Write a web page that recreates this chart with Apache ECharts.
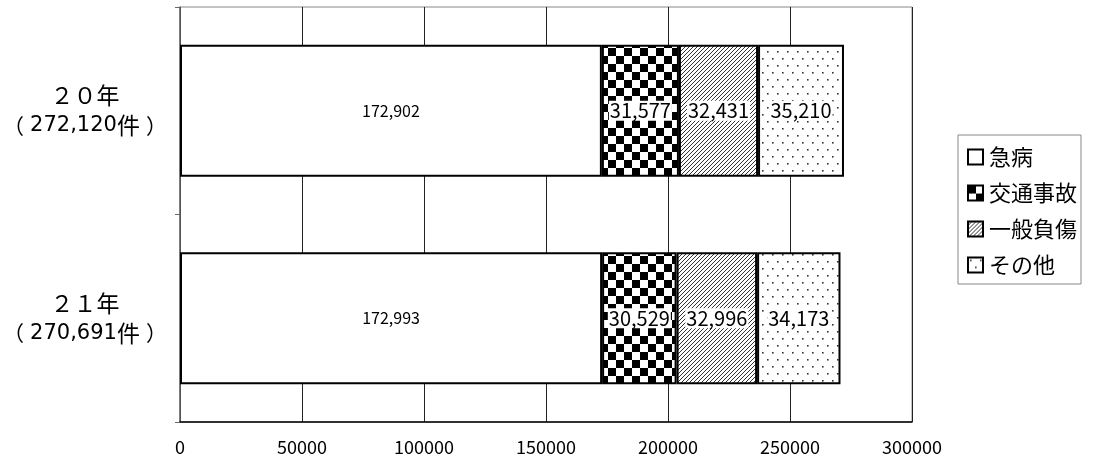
<!DOCTYPE html>
<html><head><meta charset="utf-8">
<script src="https://cdn.jsdelivr.net/npm/echarts@6/dist/echarts.min.js"></script>
<style>html,body{margin:0;padding:0;background:#fff}#c{width:1116px;height:465px}</style>
</head><body><div id="c"></div>
<script>
const categories = ['２０年', '２１年'];
const totals = ['272,120', '270,691'];
const seriesNames = ['急病', '交通事故', '一般負傷', 'その他'];
const kyubyo = [172902, 172993];
const kotsu = [31577, 30529];
const ippan = [32431, 32996];
const sonota = [35210, 34173];
const xTicks = [0, 50000, 100000, 150000, 200000, 250000, 300000];

function tile(w, h, draw) {
  const c = document.createElement('canvas');
  c.width = w; c.height = h;
  const g = c.getContext('2d');
  g.fillStyle = '#fff'; g.fillRect(0, 0, w, h);
  draw(g);
  return { image: c, repeat: 'repeat' };
}
const checker = tile(16, 16, g => { g.fillStyle = '#000'; g.fillRect(0,0,8,8); g.fillRect(8,8,8,8); });
const hatch = tile(4, 4, g => {
  g.strokeStyle = '#333'; g.lineWidth = 1;
  g.beginPath(); g.moveTo(-1, 5); g.lineTo(5, -1); g.stroke();
});
const dots = tile(10, 14, g => { g.fillStyle = '#333'; g.fillRect(2,2,1.6,1.6); g.fillRect(7,9,1.6,1.6); });

const font = '"Noto Sans CJK JP", sans-serif';
const parenFont = '"Noto Sans CJK SC", sans-serif';
const numFont = '"DejaVu Sans", sans-serif';
function fmt(v){ return v.toLocaleString('en-US'); }
function mk(name, data, color, big) {
  return {
    name, type: 'bar', stack: 'a', data, barWidth: '63.5%',
    itemStyle: { color, borderColor: '#000', borderWidth: 2 },
    label: {
      show: true, position: 'inside', color: '#000', fontFamily: font,
      fontSize: big ? 20 : 16,
      backgroundColor: big ? '#fff' : 'transparent', padding: big ? [0, 1] : 0,
      formatter: p => fmt(p.value)
    }
  };
}
const chart = echarts.init(document.getElementById('c'));
chart.setOption({
  animation: false,
  backgroundColor: '#fff',
  grid: { left: 180, right: 204, top: 7, bottom: 43, show: true, borderColor: '#888', borderWidth: 1 },
  legend: {
    orient: 'vertical', left: 958, top: 135, itemWidth: 15, itemHeight: 15, itemGap: 14,
    padding: [11, 4, 8, 9], borderColor: '#888', borderWidth: 1,
    icon: 'rect',
    textStyle: { fontFamily: font, fontSize: 22, color: '#000', padding: [0,0,0,1] },
    data: seriesNames
  },
  xAxis: {
    type: 'value', min: xTicks[0], max: xTicks[xTicks.length-1], interval: 50000,
    axisLine: { show: true, lineStyle: { color: '#000', width: 1.5 } },
    axisTick: { show: false },
    axisLabel: { fontFamily: font, fontSize: 18, color: '#000', margin: 16, formatter: v => String(v) },
    splitLine: { show: true, lineStyle: { color: '#222', width: 1 } }
  },
  yAxis: {
    type: 'category', inverse: true, data: categories,
    axisLine: { show: true, lineStyle: { color: '#666', width: 1.5 } },
    axisTick: { show: true, length: 5, lineStyle: { color: '#666' } },
    axisLabel: {
      margin: 12, align: 'center', padding: [0, 0, 0, -166],
      formatter: (v, i) => '{a|' + v + '}\n{lp|（}{n|' + totals[i] + '}{k|件}{rp|）}',
      rich: {
        a: { fontFamily: font, fontSize: 23, color: '#000', lineHeight: 30 },
        lp: { fontFamily: parenFont, fontSize: 21, color: '#000', lineHeight: 30, padding: [0, 6, 0, 0] },
        rp: { fontFamily: parenFont, fontSize: 21, color: '#000', lineHeight: 30, padding: [0, 0, 0, 6] },
        k: { fontFamily: font, fontSize: 23, color: '#000', lineHeight: 30 },
        n: { fontFamily: numFont, fontSize: 21, color: '#000', lineHeight: 30 }
      }
    }
  },
  series: [
    mk(seriesNames[0], kyubyo, '#fff', false),
    mk(seriesNames[1], kotsu, checker, true),
    mk(seriesNames[2], ippan, hatch, true),
    mk(seriesNames[3], sonota, dots, true)
  ]
});
</script></body></html>
